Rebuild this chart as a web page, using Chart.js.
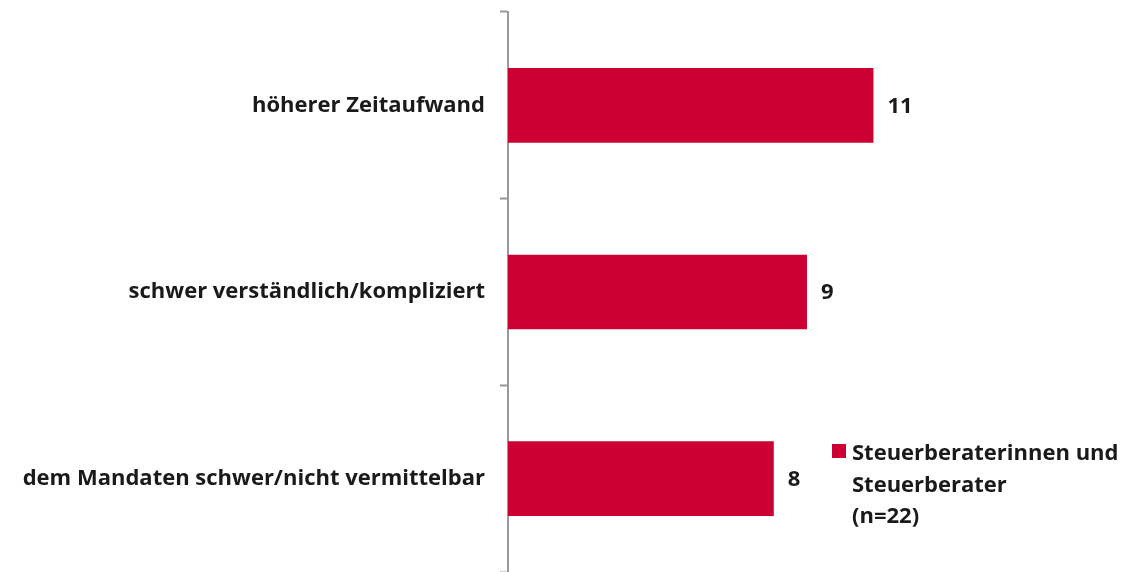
<!DOCTYPE html>
<html>
<head>
<meta charset="utf-8">
<script src="https://cdn.jsdelivr.net/npm/chart.js@4/dist/chart.umd.min.js"></script>
<style>
  html, body { margin: 0; padding: 0; background: #fff; }
  #wrap { width: 1126px; height: 572px; position: relative; }
</style>
</head>
<body>
<div id="wrap"><canvas id="myChart"></canvas></div>
<script>
// Daten
var categories = ["höherer Zeitaufwand", "schwer verständlich/kompliziert", "dem Mandaten schwer/nicht vermittelbar"];
var values = [11, 9, 8];
var seriesName = ["Steuerberaterinnen und", "Steuerberater", "(n=22)"];

var barColor = "#cc0033";
var fontFamily = "'Open Sans', 'Noto Sans', sans-serif";

// Werte rechts neben den Balken
var valueLabels = {
    id: "valueLabels",
    afterDatasetsDraw: function(chart) {
        var ctx = chart.ctx;
        var meta = chart.getDatasetMeta(0);
        ctx.save();
        ctx.font = "bold 22px " + fontFamily;
        ctx.fillStyle = "#1a1a1a";
        ctx.textAlign = "left";
        ctx.textBaseline = "middle";
        meta.data.forEach(function(bar, i) {
            ctx.fillText(String(values[i]), bar.x + 14, bar.y + 1);
        });
        ctx.restore();
    }
};

// Legende unten rechts, mehrzeilig
var legendBox = {
    id: "legendBox",
    afterDraw: function(chart) {
        var ctx = chart.ctx;
        var x = 832, y = 444;
        ctx.save();
        ctx.fillStyle = barColor;
        ctx.fillRect(x, y, 14, 14);
        ctx.font = "bold 22px " + fontFamily;
        ctx.fillStyle = "#1a1a1a";
        ctx.textAlign = "left";
        ctx.textBaseline = "alphabetic";
        for (var i = 0; i < seriesName.length; i++) {
            ctx.fillText(seriesName[i], x + 20, 460 + i * 31.5);
        }
        ctx.restore();
    }
};

var ctx = document.getElementById("myChart").getContext("2d");
var chart = new Chart(ctx, {
    type: "bar",
    data: {
        labels: categories,
        datasets: [{
            label: seriesName.join(" "),
            data: values,
            backgroundColor: barColor,
            borderWidth: 0,
            barPercentage: 0.8,
            categoryPercentage: 0.5
        }]
    },
    options: {
        indexAxis: "y",
        responsive: true,
        maintainAspectRatio: false,
        animation: false,
        layout: { padding: { top: 12, right: 20, bottom: 0, left: 0 } },
        plugins: {
            legend: { display: false },
            tooltip: { enabled: false }
        },
        scales: {
            x: {
                display: false,
                min: 0,
                max: 18
            },
            y: {
                afterFit: function(scale) {
                    scale.width = 508;
                    scale.paddingTop = 0;
                    scale.paddingBottom = 0;
                },
                border: { display: true, color: "#999999", width: 2 },
                grid: {
                    display: true,
                    drawOnChartArea: false,
                    drawTicks: true,
                    tickLength: 8,
                    tickWidth: 2,
                    color: "#999999",
                    offset: true
                },
                ticks: {
                    color: "#1a1a1a",
                    padding: 15,
                    font: { family: fontFamily, size: 22, weight: "bold" }
                }
            }
        }
    },
    plugins: [valueLabels, legendBox]
});
</script>
</body>
</html>
